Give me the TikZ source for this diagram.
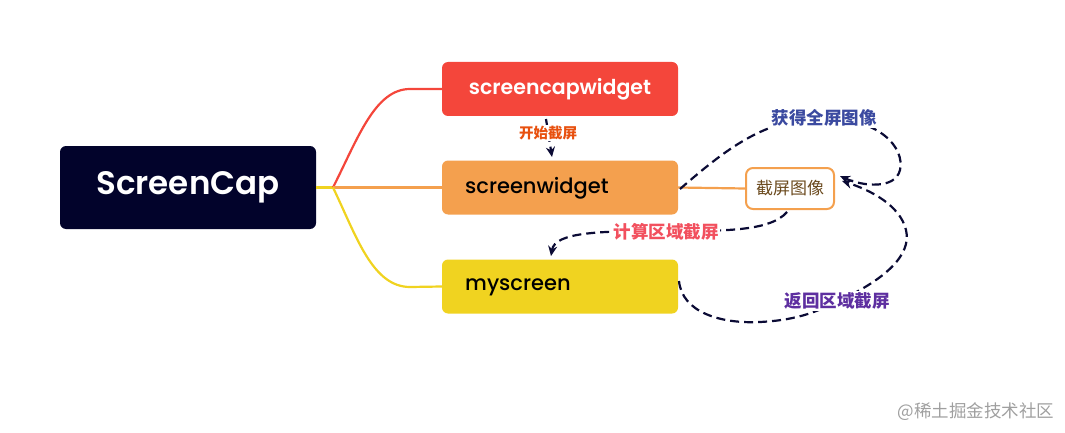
\documentclass[tikz,border=0pt]{standalone}
\usepackage{fontspec}
\setmainfont{Poppins}
\newfontfamily\popsb{Poppins SemiBold}
\newfontfamily\popm{Poppins Medium}
\newfontfamily\cjk{Noto Sans CJK SC}
\usetikzlibrary{arrows.meta}
\definecolor{navy}{HTML}{02032B}
\definecolor{cred}{HTML}{F4463B}
\definecolor{corange}{HTML}{F4A04E}
\definecolor{cyellow}{HTML}{F0D320}
\definecolor{dline}{HTML}{0B0B35}
\definecolor{lblorange}{HTML}{E8500E}
\definecolor{lblblue}{HTML}{3B4AA0}
\definecolor{lblred}{HTML}{F2505E}
\definecolor{lblpurple}{HTML}{5E2FA0}
\definecolor{imgtext}{HTML}{6B4A1E}
\tikzset{
  box/.style={rounded corners=6pt, minimum width=236pt, minimum height=54pt, inner sep=0pt},
  branch/.style={line width=2.2pt},
  flow/.style={dline, line width=2.2pt, dash pattern=on 9pt off 5pt, -{Stealth[length=10pt,width=9pt]}},
  lbl/.style={fill=white, inner sep=1.5pt, font=\cjk\bfseries\fontsize{17.5}{18}\selectfont},
}
\begin{document}
\begin{tikzpicture}[x=1pt,y=-1pt]
\useasboundingbox (0,0) rectangle (1065,433);
% nodes
\node[box, fill=navy, minimum width=256pt, minimum height=83pt, text=white, font=\popsb\fontsize{32.5}{33}\selectfont] (root) at (188,187.5) {ScreenCap};
\node[box, fill=cred, text=white, font=\popsb\fontsize{20.5}{21}\selectfont] (scw) at (560,89) {screencapwidget};
\node[box, fill=corange, text=black] (sw) at (560,187.5) {};
\node[anchor=west, font=\popm\fontsize{21}{21}\selectfont, inner sep=0pt] (swt) at (465,188.5) {screenwidget};
\node[box, fill=cyellow, text=black] (ms) at (560,286.5) {};
\node[anchor=west, font=\popm\fontsize{21}{21}\selectfont, inner sep=0pt] (mst) at (465,287.5) {myscreen};
\node[draw=corange, line width=2pt, fill=white, rounded corners=7pt, minimum width=88pt, minimum height=41pt, inner sep=0pt, text=imgtext, font=\cjk\fontsize{17}{17}\selectfont] (img) at (790,188.5) {截屏图像};
% branches
\coordinate (hub) at (333,187.5);
\draw[branch, cyellow] (root.east) -- (hub);
\draw[branch, cred] (hub) .. controls (358,138) and (375,89) .. (410,89) -- (scw.west);
\draw[branch, corange] (hub) -- (sw.west);
\draw[branch, cyellow] (hub) .. controls (356,235) and (372,287) .. (410,287) -- (ms.west);
\draw[branch, corange] (sw.east) -- (img.west);
% flows
\coordinate (a1) at (546,119);
\draw[flow] (a1) -- (552,157);
\node[lbl, text=lblorange, font=\cjk\bfseries\fontsize{14.5}{15}\selectfont] (l1) at (548,133) {开始截屏};

\draw[flow] (680,189) .. controls (725,150) and (765,118) .. (823,118)
  .. controls (880,118) and (905,148) .. (900,170)
  .. controls (895,190) and (862,186) .. (840,176);
\node[lbl, text=lblblue] (l2) at (824,118) {获得全屏图像};

\draw[flow] (787,212) .. controls (770,232) and (720,231) .. (665,231)
  .. controls (600,231) and (555,232) .. (551,256);
\node[lbl, text=lblred] (l3) at (666,232) {计算区域截屏};

\draw[flow] (679,281) .. controls (682,312) and (720,324) .. (760,322)
  .. controls (800,320) and (820,310) .. (836,302)
  .. controls (885,280) and (912,255) .. (906,230)
  .. controls (900,205) and (870,190) .. (842,181);
\node[lbl, text=lblpurple] (l4) at (837,301) {返回区域截屏};

\node[text=gray!75, font=\cjk\fontsize{17.5}{18}\selectfont, inner sep=0pt] (wm) at (976,412) {@稀土掘金技术社区};
\end{tikzpicture}
\end{document}
